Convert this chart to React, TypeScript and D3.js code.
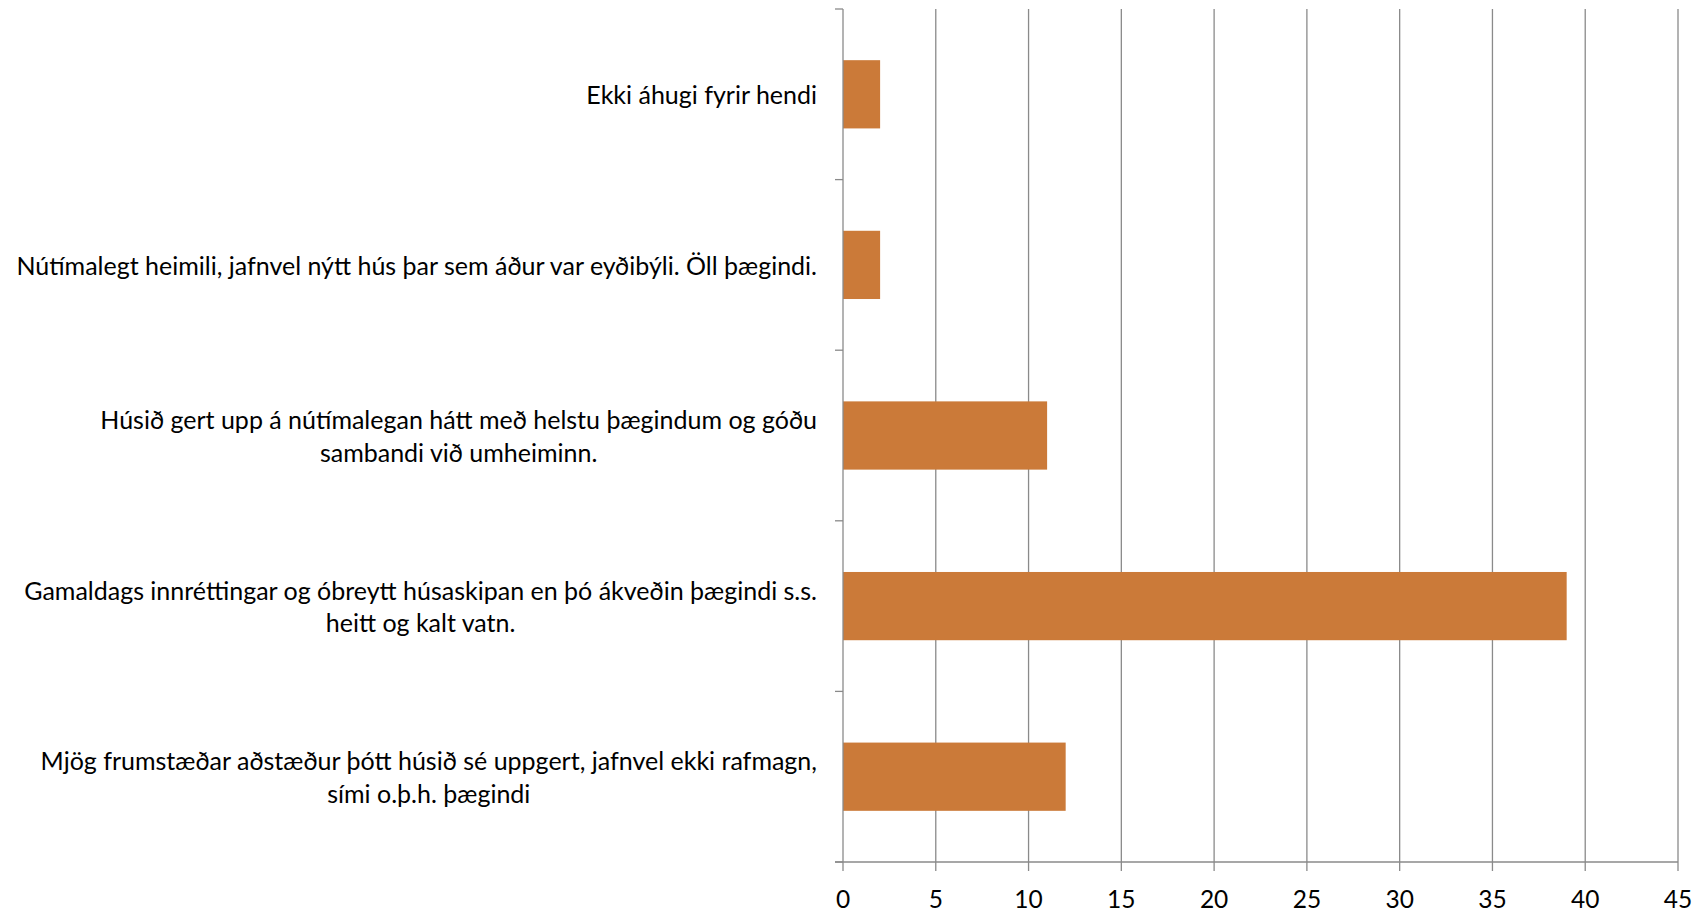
import React, { useEffect, useRef } from "react";
import * as d3 from "d3";

// answers top to bottom, each label already broken into its lines
const categories = [
  ["Ekki áhugi fyrir hendi"],
  ["Nútímalegt heimili, jafnvel nýtt hús þar sem áður var eyðibýli. Öll þægindi."],
  ["Húsið gert upp á nútímalegan hátt með helstu þægindum og góðu", "sambandi við umheiminn."],
  ["Gamaldags innréttingar og óbreytt húsaskipan en þó ákveðin þægindi s.s.", "heitt og kalt vatn."],
  ["Mjög frumstæðar aðstæður þótt húsið sé uppgert, jafnvel ekki rafmagn,", "sími o.þ.h. þægindi"],
];
const counts = [2, 2, 11, 39, 12];
const xTicks = [0, 5, 10, 15, 20, 25, 30, 35, 40, 45];

const W = 1705;
const H = 911;
const margin = { top: 9, right: 27, bottom: 49, left: 843 };
const barColor = "#cb7a39";
const gridColor = "#8a8a8a";
const font = "Lato, 'Liberation Sans', sans-serif";

export default function App() {
  const ref = useRef<SVGSVGElement>(null);

  useEffect(() => {
    const svg = d3.select(ref.current);
    svg.selectAll("*").remove();

    const x = d3.scaleLinear().domain([0, 45]).range([margin.left, W - margin.right]);
    const y = d3
      .scaleBand<number>()
      .domain(d3.range(categories.length))
      .range([margin.top, H - margin.bottom])
      .paddingInner(0.6)
      .paddingOuter(0.3);
    const step = y.step();
    const bottom = H - margin.bottom;

    // vertical gridlines
    svg.append("g")
      .selectAll("line")
      .data(xTicks.slice(1))
      .join("line")
      .attr("x1", (d) => x(d))
      .attr("x2", (d) => x(d))
      .attr("y1", margin.top)
      .attr("y2", bottom + 9)
      .attr("stroke", gridColor)
      .attr("stroke-width", 1.3);

    // bars
    svg.append("g")
      .selectAll("rect")
      .data(counts)
      .join("rect")
      .attr("x", x(0))
      .attr("y", (d, i) => y(i)!)
      .attr("width", (d) => x(d) - x(0))
      .attr("height", y.bandwidth())
      .attr("fill", barColor);

    // y axis with category boundary ticks
    const ax = svg.append("g").attr("stroke", gridColor).attr("stroke-width", 1.3);
    ax.append("line")
      .attr("x1", x(0)).attr("x2", x(0))
      .attr("y1", margin.top).attr("y2", bottom + 9);
    ax.selectAll("line.yt")
      .data(d3.range(categories.length + 1))
      .join("line")
      .attr("class", "yt")
      .attr("x1", x(0) - 8).attr("x2", x(0))
      .attr("y1", (i) => margin.top + i * step)
      .attr("y2", (i) => margin.top + i * step);
    ax.append("line")
      .attr("x1", x(0) - 8).attr("x2", x(45))
      .attr("y1", bottom).attr("y2", bottom);

    // x tick labels
    svg.append("g")
      .selectAll("text")
      .data(xTicks)
      .join("text")
      .attr("x", (d) => x(d))
      .attr("y", bottom + 36)
      .attr("text-anchor", "middle")
      .attr("dominant-baseline", "central")
      .attr("font-family", font)
      .attr("font-size", 24.5)
      .attr("fill", "#000")
      .text((d) => d);

    // category labels: block right-aligned to the axis, lines centred in the block
    const lineH = 32.5;
    const right = x(0) - 26;
    categories.forEach((lines, i) => {
      const g = svg.append("g");
      const cy = y(i)! + y.bandwidth() / 2;
      const texts = g
        .selectAll("text")
        .data(lines)
        .join("text")
        .attr("y", (d, j) => cy + (j - (lines.length - 1) / 2) * lineH)
        .attr("dominant-baseline", "central")
        .attr("text-anchor", "middle")
        .attr("font-family", font)
        .attr("font-size", 25)
        .attr("fill", "#000")
        .text((d) => d);
      let maxW = 0;
      texts.each(function () {
        maxW = Math.max(maxW, (this as SVGTextElement).getComputedTextLength());
      });
      texts.attr("x", right - maxW / 2);
    });
  }, []);

  return (
    <div style={{ position: "absolute", left: 0, top: 0, background: "#fff" }}>
      <svg ref={ref} width={W} height={H} viewBox={`0 0 ${W} ${H}`} style={{ display: "block" }} />
    </div>
  );
}
